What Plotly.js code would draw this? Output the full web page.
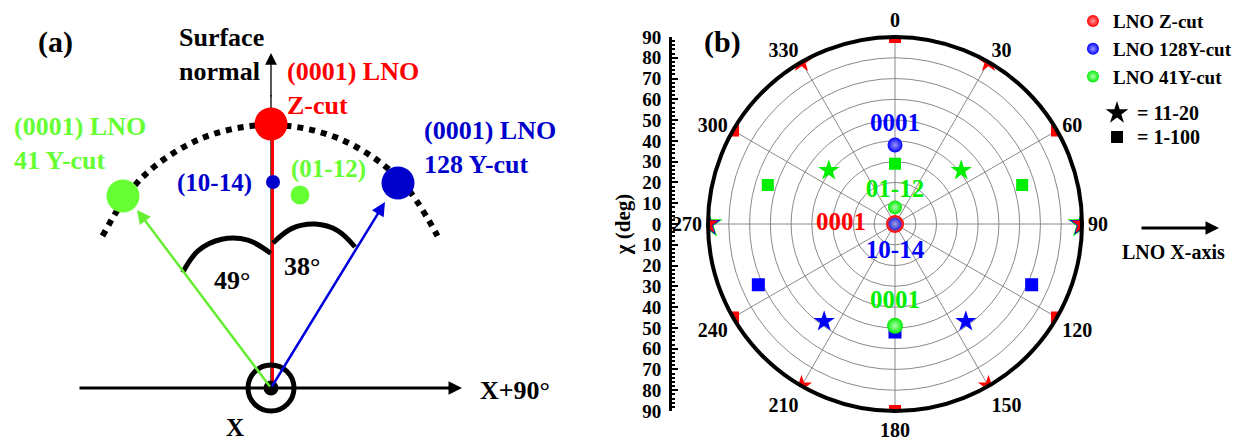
<!DOCTYPE html>
<html><head><meta charset="utf-8">
<script src="https://cdn.plot.ly/plotly-3.0.1.min.js"></script>
<style>html,body{margin:0;padding:0;background:#fff}</style>
</head><body><div id="chart" style="width:1252px;height:443px"></div>
<script>
// ================= Panel (b): pole-figure data (chi = r, phi = theta, degrees) =================
const zcut0001R = [0],  zcut0001T = [0];
const zcut1120R = [90, 90, 90, 90, 90, 90], zcut1120T = [30, 90, 150, 210, 270, 330];
const zcut1100R = [90, 90, 90, 90, 90, 90], zcut1100T = [0, 60, 120, 180, 240, 300];

const y128_0001R = [38], y128_0001T = [0];
const y128_1014R = [0],  y128_1014T = [0];
const y128_1120R = [90, 90, 58, 58], y128_1120T = [90, 270, 144, 216];
const y128_1100R = [72, 52, 72],     y128_1100T = [114, 180, 246];

const y41_0001R = [49], y41_0001T = [180];
const y41_0112R = [8],  y41_0112T = [0];
const y41_1120R = [90, 90, 41, 41], y41_1120T = [90, 270, 51, 309];
const y41_1100R = [29, 64, 64],     y41_1100T = [0, 73, 287];

const angTickVals = [0, 30, 60, 90, 120, 150, 180, 210, 240, 270, 300, 330];
const angTickText = ['0', '30', '60', '90', '120', '150', '180', '210', '240', '270', '300', '330'];
const chiTickVals = [-90, -80, -70, -60, -50, -40, -30, -20, -10, 0, 10, 20, 30, 40, 50, 60, 70, 80, 90];
const chiTickText = ['90', '80', '70', '60', '50', '40', '30', '20', '10', '0', '10', '20', '30', '40', '50', '60', '70', '80', '90'];

const reflText   = ['0001', '01-12', '0001', '10-14', '0001'];
const reflTextR  = [48, 16, 26, 13.5, 37.5];
const reflTextT  = [0, 0, 270, 180, 180];
const reflColors = ['#0000ff', '#00ee00', '#ff0000', '#0000ff', '#00ee00'];

const seriesNames = ['LNO Z-cut', 'LNO 128Y-cut', 'LNO 41Y-cut'];

// ================= Panel (a): schematic (pixel space) =================
const originX = [271], originY = [388];
const ballX = [271, 398, 123], ballY = [124, 183, 196];
const ballColors = ['#ff0000', '#0000cc', '#66ff33'];
const smallDotX = [273, 300], smallDotY = [182, 195];
const smallDotColors = ['#0000cc', '#66ff33'];
const arcX = [102.5, 141.3, 201.8, 270, 338.2, 398.7, 437.5];
const arcY = [236, 178.3, 138.3, 125, 138.3, 178.3, 236];
const ang49X = [182.7, 198.3, 221.8, 247.9, 270.7];
const ang49Y = [272.4, 250.6, 239.2, 240.1, 253.3];
const ang38X = [273, 292, 315.3, 338, 355];
const ang38Y = [243, 228.4, 224.1, 230.8, 247];
const tiltLabels = ['49°', '38°'];

const serif = 'Liberation Serif, Times New Roman, serif';
const bold = (size, color) => ({family: serif, size: size, color: color || '#000', weight: 700});

const traces = [];

// ---------- Panel (a) traces ----------
traces.push({x: arcX, y: arcY, xaxis: 'x', yaxis: 'y', mode: 'lines', line: {color: '#000', width: 6, dash: 'dot', shape: 'spline'}, showlegend: false, hoverinfo: 'skip'});
// surface-normal shaft (thin black), then red Z-cut line on top
traces.push({x: [originX[0], originX[0]], y: [originY[0], 95], xaxis: 'x', yaxis: 'y', mode: 'lines', line: {color: '#000', width: 1.3}, showlegend: false, hoverinfo: 'skip'});
traces.push({x: [originX[0] + 1.5, ballX[0] + 1.5], y: [originY[0], ballY[0]], xaxis: 'x', yaxis: 'y', mode: 'lines', line: {color: '#ff0000', width: 3}, showlegend: false, hoverinfo: 'skip'});
traces.push({x: ang49X, y: ang49Y, xaxis: 'x', yaxis: 'y', mode: 'lines', line: {color: '#000', width: 5, shape: 'spline'}, showlegend: false, hoverinfo: 'skip'});
traces.push({x: ang38X, y: ang38Y, xaxis: 'x', yaxis: 'y', mode: 'lines', line: {color: '#000', width: 5, shape: 'spline'}, showlegend: false, hoverinfo: 'skip'});
traces.push({x: ballX, y: ballY, xaxis: 'x', yaxis: 'y', mode: 'markers', marker: {color: ballColors, size: 33, opacity: 1, line: {width: 0}}, showlegend: false, hoverinfo: 'skip'});
traces.push({x: smallDotX, y: smallDotY, xaxis: 'x', yaxis: 'y', mode: 'markers', marker: {color: smallDotColors, size: [14, 19], opacity: 1, line: {width: 0}}, showlegend: false, hoverinfo: 'skip'});
traces.push({x: originX, y: originY, xaxis: 'x', yaxis: 'y', mode: 'markers', marker: {symbol: 'circle-open', color: '#000', size: 46, line: {width: 5, color: '#000'}}, showlegend: false, hoverinfo: 'skip'});
traces.push({x: originX, y: originY, xaxis: 'x', yaxis: 'y', mode: 'markers', marker: {color: '#000', size: 15}, showlegend: false, hoverinfo: 'skip'});
// key symbols (star / square)
traces.push({x: [1117], y: [113], xaxis: 'x', yaxis: 'y', mode: 'markers', marker: {symbol: 'star', color: '#000', size: 17}, showlegend: false, hoverinfo: 'skip'});
traces.push({x: [1117], y: [137], xaxis: 'x', yaxis: 'y', mode: 'markers', marker: {symbol: 'square', color: '#000', size: 12}, showlegend: false, hoverinfo: 'skip'});
// dummy trace to instantiate chi axis
traces.push({x: [0], y: [0], xaxis: 'x2', yaxis: 'y2', mode: 'markers', marker: {opacity: 0}, showlegend: false, hoverinfo: 'skip'});

// ---------- Panel (b) traces ----------
function pts(r, t, color, symbol, size, extra) {
  return Object.assign({type: 'scatterpolar', r: r, theta: t, mode: 'markers', cliponaxis: true,
    marker: {symbol: symbol, color: color, size: size, opacity: 1, line: {width: 0}}, showlegend: false, hoverinfo: 'skip'}, extra || {});
}
function sphere(r, t, color, light, size, extra) {
  return Object.assign({type: 'scatterpolar', r: r, theta: t, mode: 'markers', cliponaxis: true,
    marker: {symbol: 'circle', color: color, size: size, opacity: 1, line: {width: 0}, gradient: {type: 'radial', color: light}},
    showlegend: false, hoverinfo: 'skip'}, extra || {});
}
// stars (11-20)
traces.push(pts(y41_1120R, y41_1120T, '#00ee00', 'star', [22, 22, 16, 16]));
traces.push(pts(y128_1120R, y128_1120T, '#0000ff', 'star', [19, 19, 16, 16]));
traces.push(pts(zcut1120R, zcut1120T, '#ff0000', 'star', 16));
// squares (1-100)
traces.push(pts(zcut1100R, zcut1100T, '#ff0000', 'square', 12));
traces.push(pts(y128_1100R, y128_1100T, '#0000ff', 'square', 13));
traces.push(pts(y41_1100R, y41_1100T, '#00ee00', 'square', 12));
// spheres (0001 / 10-14 / 01-12)
traces.push(sphere(zcut0001R, zcut0001T, '#ff0000', '#ff9a9a', 18, {showlegend: true, name: seriesNames[0], legendrank: 1}));
traces.push(sphere(y128_1014R, y128_1014T, '#2a2ad8', '#a0a0e0', 13));
traces.push(sphere(y128_0001R, y128_0001T, '#0000ff', '#9a9aff', 15, {showlegend: true, name: seriesNames[1], legendrank: 2}));
traces.push(sphere(y41_0001R, y41_0001T, '#00ee00', '#b0ffb0', 16, {showlegend: true, name: seriesNames[2], legendrank: 3}));
traces.push(sphere(y41_0112R, y41_0112T, '#00ee00', '#b0ffb0', 14));
// reflection labels
traces.push({type: 'scatterpolar', r: reflTextR, theta: reflTextT, mode: 'text', text: reflText,
  textposition: 'middle center', textfont: {family: serif, size: 25, color: reflColors, weight: 700},
  showlegend: false, hoverinfo: 'skip', cliponaxis: false});

// ---------- annotations ----------
function arrow(x0, y0, x1, y1, color, width, size) {
  return {x: x1, y: y1, ax: x0, ay: y0, xref: 'x', yref: 'y', axref: 'x', ayref: 'y', text: '',
    showarrow: true, arrowhead: 2, arrowsize: size, arrowwidth: width, arrowcolor: color, standoff: 0, startstandoff: 0};
}
function label(x, y, text, font, xanchor, align) {
  return {x: x, y: y, xref: 'x', yref: 'y', text: text, showarrow: false, font: font,
    xanchor: xanchor || 'center', yanchor: 'middle', align: align || 'center'};
}
const annotations = [
  arrow(78, 388, 462, 388, '#000', 3, 0.9),
  arrow(271, 98, 271, 53, '#000', 1.3, 1.8),
  arrow(271, 388, 137, 210, '#66ee33', 2.5, 1.1),
  arrow(271, 388, 385, 202, '#0000dd', 2.5, 1.1),
  arrow(1140, 228, 1219, 228, '#000', 3, 0.9),
  label(55, 42, '(a)', bold(30)),
  label(177, 54, 'Surface<br>normal', bold(26), 'left', 'left'),
  label(285, 88, '(0001) LNO<br>Z-cut', bold(26, '#ff0000'), 'left', 'left'),
  label(12, 143, '(0001) LNO<br>41 Y-cut', bold(26, '#66ff33'), 'left', 'left'),
  label(422, 147, '(0001) LNO<br>128 Y-cut', bold(26, '#0000cc'), 'left', 'left'),
  label(214, 183, '(10-14)', bold(25, '#0000cc')),
  label(328, 169, '(01-12)', bold(25, '#66ff33')),
  label(232, 280, tiltLabels[0], bold(26)),
  label(302, 266, tiltLabels[1], bold(26)),
  label(235, 427, 'X', bold(25)),
  label(478, 390, 'X+90°', bold(26), 'left'),
  label(722, 42, '(b)', bold(30)),
  label(1135, 113, '= 11-20', bold(20), 'left'),
  label(1135, 137, '= 1-100', bold(20), 'left'),
  label(1173, 252, 'LNO X-axis', bold(20))
];

const layout = {
  width: 1252, height: 443,
  margin: {l: 0, r: 0, t: 0, b: 0},
  paper_bgcolor: '#fff', plot_bgcolor: 'rgba(0,0,0,0)',
  hovermode: false,
  showlegend: true,
  legend: {x: 0.857, y: 0.995, xanchor: 'left', yanchor: 'top', font: bold(19), bgcolor: 'rgba(0,0,0,0)',
    itemsizing: 'constant', traceorder: 'normal'},
  xaxis: {domain: [0, 1], range: [0, 1252], visible: false, fixedrange: true},
  yaxis: {domain: [0, 1], range: [443, 0], visible: false, fixedrange: true},
  xaxis2: {domain: [672 / 1252, 690 / 1252], range: [0, 1], visible: false, anchor: 'y2'},
  yaxis2: {domain: [32 / 443, 406 / 443], anchor: 'x2', side: 'left', range: [-90, 90],
    showline: true, linecolor: '#000', linewidth: 3, showgrid: false, zeroline: false,
    tickmode: 'array', tickvals: chiTickVals, ticktext: chiTickText,
    ticks: 'inside', ticklen: 6, tickwidth: 2, tickcolor: '#000',
    minor: {dtick: 2, ticks: 'inside', ticklen: 3, tickwidth: 2, tickcolor: '#000'},
    tickfont: bold(19), ticklabelstandoff: 4,
    title: {text: 'χ (deg)', font: bold(21), standoff: 6}},
  polar: {
    domain: {x: [708 / 1252, 1082 / 1252], y: [32 / 443, 406 / 443]},
    bgcolor: '#fff',
    radialaxis: {range: [0, 90], dtick: 10, tick0: 0, showline: false, showticklabels: false, ticks: '',
      gridcolor: '#8a8a8a', gridwidth: 1},
    angularaxis: {rotation: 90, direction: 'clockwise', tickmode: 'array', tickvals: angTickVals, ticktext: angTickText,
      showgrid: true, gridcolor: '#8a8a8a', gridwidth: 1, linecolor: '#000', linewidth: 4, showline: true,
      ticks: '', tickfont: bold(20)}
  },
  annotations: annotations
};

Plotly.newPlot('chart', traces, layout, {displayModeBar: false, staticPlot: true});
</script>
</body></html>
